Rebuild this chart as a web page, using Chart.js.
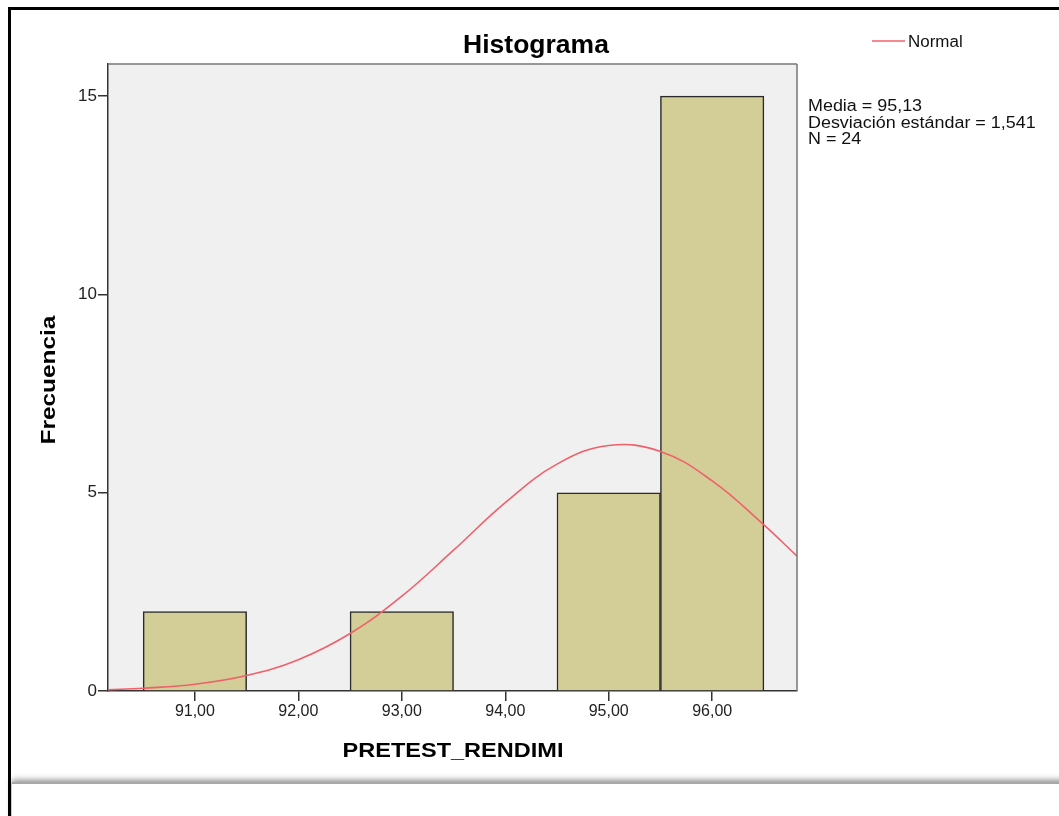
<!DOCTYPE html>
<html>
<head>
<meta charset="utf-8">
<script src="https://cdn.jsdelivr.net/npm/chart.js@4.4.0/dist/chart.umd.min.js"></script>
<style>
  html, body { margin: 0; padding: 0; background: #fff; overflow: hidden; }
  #frame { position: absolute; left: 8px; top: 7px; width: 1100px; height: 900px; border: 3px solid #000; }
  #shadow { position: absolute; left: 12px; top: 782px; width: 1100px; height: 60px; background: #fff;
            box-shadow: 0 -2px 6px rgba(0,0,0,0.45); border-top: 2px solid #a8a8a8; }
  #wrap { position: absolute; left: 0; top: 0; width: 1059px; height: 816px; }
</style>
</head>
<body>
<div id="frame"></div>
<div id="shadow"></div>
<div id="wrap"><canvas id="hist" width="1059" height="816"></canvas></div>
<script>
// datos del histograma (SPSS)
const binCenters = [91, 93, 95, 96];
const binCounts = [2, 2, 5, 15];
const xTicks = [91, 92, 93, 94, 95, 96];
const xTickLabels = ['91,00', '92,00', '93,00', '94,00', '95,00', '96,00'];
const yTicks = [0, 5, 10, 15];
// curva normal
const curveX = [90.16, 90.5, 91, 91.5, 92, 92.5, 93, 93.5, 94, 94.5, 95, 95.5, 96, 96.5, 96.82];
const curveY = [0.03, 0.07, 0.17, 0.39, 0.79, 1.45, 2.39, 3.55, 4.75, 5.72, 6.19, 6.04, 5.30, 4.19, 3.40];
const statsLines = ['Media = 95,13', 'Desviación estándar = 1,541', 'N = 24'];

const FONT = '"Liberation Sans", Arial, sans-serif';

function stretchText(ctx, text, x, y, font, sx, align) {
    ctx.save();
    ctx.font = font;
    ctx.textBaseline = 'alphabetic';
    const w = ctx.measureText(text).width * sx;
    let left = x;
    if (align === 'center') left = x - w / 2;
    ctx.translate(left, y);
    ctx.scale(sx, 1);
    ctx.textAlign = 'left';
    ctx.fillText(text, 0, 0);
    ctx.restore();
}

const decor = {
    id: 'decor',
    beforeDraw(chart) {
        const { ctx, chartArea: a } = chart;
        ctx.save();
        ctx.fillStyle = '#f0f0f0';
        ctx.fillRect(a.left, a.top, a.right - a.left, a.bottom - a.top);
        ctx.restore();
    },
    afterDraw(chart) {
        const { ctx, chartArea: a } = chart;
        ctx.save();
        // borde superior y derecho del area
        ctx.strokeStyle = '#777';
        ctx.lineWidth = 1.5;
        ctx.beginPath();
        ctx.moveTo(a.left, a.top);
        ctx.lineTo(a.right, a.top);
        ctx.moveTo(a.right, a.top);
        ctx.lineTo(a.right, a.bottom);
        ctx.stroke();
        ctx.fillStyle = '#000';
        stretchText(ctx, 'Histograma', 536, 53, 'bold 25px ' + FONT, 1.06, 'center');
        stretchText(ctx, 'PRETEST_RENDIMI', 453, 757, 'bold 21px ' + FONT, 1.12, 'center');
        ctx.save();
        ctx.translate(55, 380);
        ctx.rotate(-Math.PI / 2);
        stretchText(ctx, 'Frecuencia', 0, 0, 'bold 20px ' + FONT, 1.22, 'center');
        ctx.restore();
        // leyenda
        ctx.strokeStyle = '#f0606a';
        ctx.lineWidth = 1.5;
        ctx.beginPath();
        ctx.moveTo(872, 41);
        ctx.lineTo(905, 41);
        ctx.stroke();
        ctx.fillStyle = '#111';
        stretchText(ctx, 'Normal', 908, 47, '16px ' + FONT, 1.06, 'left');
        statsLines.forEach((t, i) => {
            stretchText(ctx, t, 808, 111 + i * 16.5, '16px ' + FONT, 1.12, 'left');
        });
        ctx.restore();
    }
};

new Chart(document.getElementById('hist'), {
    data: {
        datasets: [
            {
                type: 'line',
                label: 'Normal',
                data: curveX.map((x, i) => ({ x: x, y: curveY[i] })),
                borderColor: '#f0606a',
                borderWidth: 1.6,
                pointRadius: 0,
                tension: 0.4,
                fill: false,
                order: 0
            },
            {
                type: 'bar',
                label: 'Frecuencia',
                data: binCenters.map((x, i) => ({ x: x, y: binCounts[i] })),
                backgroundColor: '#d3ce97',
                borderColor: '#2a2a2a',
                borderWidth: 1.5,
                barPercentage: 1,
                categoryPercentage: 1,
                order: 1
            }
        ]
    },
    options: {
        responsive: false,
        animation: false,
        layout: { padding: { left: 48, top: 64, right: 262, bottom: 85 } },
        plugins: { legend: { display: false }, tooltip: { enabled: false } },
        scales: {
            x: {
                type: 'linear',
                offset: false,
                min: 90.16,
                max: 96.82,
                afterBuildTicks: s => { s.ticks = xTicks.map(v => ({ value: v })); },
                afterFit: s => { s.height = 40; },
                ticks: {
                    autoSkip: false,
                    maxRotation: 0,
                    color: '#222',
                    font: { family: FONT, size: 16 },
                    padding: 1,
                    callback: (v) => xTickLabels[xTicks.indexOf(v)]
                },
                grid: { offset: false, drawOnChartArea: false, drawTicks: true, tickLength: 10, color: '#333', lineWidth: 1.5 },
                border: { display: true, color: '#333', width: 1.5 }
            },
            y: {
                min: 0,
                max: 15.81,
                afterBuildTicks: s => { s.ticks = yTicks.map(v => ({ value: v })); },
                afterFit: s => { s.width = 60; },
                ticks: {
                    color: '#222',
                    font: { family: FONT, size: 17 },
                    padding: 1
                },
                grid: { drawOnChartArea: false, drawTicks: true, tickLength: 10, color: '#333', lineWidth: 1.5 },
                border: { display: true, color: '#333', width: 1.5 }
            }
        }
    },
    plugins: [decor]
});
</script>
</body>
</html>
